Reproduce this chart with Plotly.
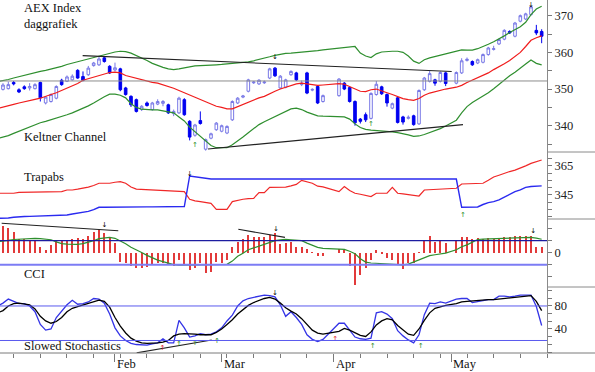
import plotly.graph_objects as go

# ---------------- data (weekday index: 0 = 2 Jan 2013; holidays skipped) ----------------
trade_day = list(range(0, 62)) + list(range(64, 85)) + list(range(86, 103))

open_ = [349.5,
         349.9, 350.1, 351.8, 349.8, 350.6, 350.3, 350.1, 351.8, 346.2,
         346.6, 347.5, 352.4, 352.1, 352.5, 355.1, 353.4, 353.9, 356.4, 356.6,
         358.5, 356.2, 355.2, 355.5, 350.3, 348.0, 347.1, 344.4, 346.2, 344.4,
         345.9, 346.1, 345.7, 343.3, 343.5, 347.1, 341.2, 337.4, 341.4, 333.6,
         336.6, 338.9, 338.5, 338.0, 341.6, 346.2, 347.8, 349.4, 351.7, 351.4,
         351.7, 353.0, 355.7, 350.3, 350.5, 353.9, 354.4, 351.2, 354.4, 349.7,
         350.7, 346.6,
         348.2, 351.6, 350.4, 346.6, 341.8, 343.0,
         342.0, 348.5, 350.6, 348.5, 344.8, 347.6, 342.4, 342.0, 342.7, 340.5,
         349.8, 352.1, 352.5, 352.1, 354.4,
         351.6, 354.4, 357.8, 357.5,
         357.1, 357.3, 359.4, 360.8, 362.3, 363.6, 365.7, 364.4, 368.5, 369.1,
         370.3, 366.0, 365.7]
high = [350.6,
        351.6, 352.0, 352.2, 350.2, 351.0, 351.6, 351.6, 352.0, 348.0,
        348.8, 351.0, 352.8, 353.7, 354.0, 355.4, 354.8, 356.3, 357.4, 358.9,
        359.0, 356.5, 357.2, 355.8, 350.6, 348.3, 347.4, 345.6, 346.6, 346.5,
        347.2, 347.0, 346.0, 344.4, 347.9, 347.5, 341.5, 340.5, 343.9, 336.5,
        338.1, 341.0, 340.3, 340.1, 346.9, 347.8, 348.4, 352.8, 352.2, 352.7,
        352.3, 355.8, 356.0, 353.8, 352.8, 355.1, 354.7, 352.3, 354.7, 350.2,
        351.0, 348.5,
        353.0, 351.9, 350.7, 346.9, 342.1, 343.6,
        349.1, 352.2, 350.9, 348.8, 346.3, 347.9, 342.7, 342.8, 343.0, 349.9,
        353.3, 354.9, 352.8, 354.8, 354.7,
        354.8, 358.4, 358.6, 357.8,
        358.3, 359.7, 361.5, 361.8, 363.8, 366.3, 366.0, 368.3, 370.3, 370.8,
        372.7, 367.5, 366.3]
low = [349.2,
       349.6, 349.9, 351.0, 348.9, 349.8, 349.6, 349.9, 346.6, 345.8,
       346.3, 347.2, 350.9, 351.9, 352.3, 352.8, 352.1, 353.6, 356.1, 356.3,
       357.2, 354.1, 354.8, 349.4, 348.2, 345.1, 343.6, 344.0, 345.2, 344.1,
       345.6, 345.3, 343.2, 342.6, 343.2, 342.7, 336.0, 337.0, 340.3, 333.2,
       336.3, 338.6, 338.2, 337.7, 341.3, 345.9, 347.5, 349.1, 351.4, 351.1,
       351.4, 352.7, 353.3, 350.0, 350.2, 353.6, 352.2, 350.8, 348.6, 349.4,
       345.9, 346.3,
       347.9, 349.7, 346.3, 340.0, 340.6, 341.0,
       341.7, 348.2, 348.4, 345.2, 344.5, 340.6, 340.3, 341.7, 340.0, 340.2,
       349.5, 351.8, 350.9, 351.8, 350.8,
       351.3, 354.1, 357.5, 356.3,
       356.8, 357.0, 359.1, 360.5, 362.0, 363.3, 365.0, 364.1, 368.2, 368.8,
       370.0, 364.7, 362.5]
close = [350.2,
         351.1, 351.2, 351.4, 349.2, 350.1, 350.7, 351.2, 347.6, 347.8,
         348.5, 350.7, 351.2, 353.3, 353.5, 353.0, 352.4, 355.7, 357.1, 358.2,
         357.5, 354.4, 355.8, 349.8, 348.5, 345.7, 343.9, 345.3, 345.5, 346.2,
         346.6, 346.6, 343.5, 343.9, 347.5, 343.0, 336.9, 340.2, 340.6, 336.2,
         337.8, 340.7, 340.0, 339.8, 346.6, 347.5, 348.1, 352.5, 351.9, 352.4,
         351.9, 355.5, 353.6, 353.5, 352.5, 354.8, 352.5, 351.6, 348.9, 349.9,
         346.2, 348.2,
         352.7, 350.0, 346.6, 340.8, 341.2, 341.6,
         348.8, 351.3, 348.7, 346.2, 346.0, 340.9, 341.0, 342.3, 340.3, 349.6,
         353.0, 354.2, 351.6, 354.5, 351.5,
         354.5, 357.7, 358.1, 356.6,
         358.0, 359.4, 361.2, 361.0, 363.5, 366.0, 365.3, 368.0, 370.0, 370.5,
         372.4, 365.3, 364.4]

keltner_mid = [344.7,
               345.0, 345.4, 345.8, 346.2, 346.6, 347.0, 347.2, 347.5, 347.9,
               348.5, 349.0, 349.6, 350.3, 350.9, 351.5, 352.4, 352.8, 353.3, 353.8,
               354.2, 354.5, 354.6, 354.4, 353.7, 353.3, 352.8, 352.4, 352.1, 351.8,
               351.6, 351.2, 350.8, 350.2, 349.6, 349.0, 348.3, 347.8, 347.0, 346.5,
               345.8, 345.3, 345.0, 344.6, 344.6, 345.2, 345.8, 346.6, 347.1, 347.6,
               348.0, 348.8, 349.4, 350.0, 350.5, 350.9, 351.4, 351.6, 351.4, 351.0,
               351.0, 351.1,
               351.5, 351.3, 350.7, 350.0, 349.4, 349.3,
               349.8, 350.0, 349.6, 349.0, 348.5, 347.9, 347.4, 347.1, 346.9, 347.4,
               348.3, 348.9, 349.3, 349.7, 350.0,
               350.5, 351.0, 351.8, 352.4,
               353.0, 353.6, 354.4, 355.3, 356.0, 356.9, 357.8, 358.9, 360.0, 361.6,
               363.3, 364.0, 364.5]
keltner_up = [352.0,
              352.2, 352.6, 353.0, 353.4, 353.8, 354.1, 354.5, 354.8, 355.1,
              355.4, 355.8, 356.2, 356.7, 357.1, 357.5, 357.9, 358.3, 358.7, 359.1,
              359.5, 359.8, 360.1, 360.3, 360.2, 359.8, 359.2, 358.6, 357.8, 357.0,
              356.4, 355.9, 355.5, 355.3, 355.5, 355.8, 356.1, 356.3, 356.4, 356.4,
              356.5, 356.6, 356.7, 356.8, 357.0, 357.1, 357.2, 357.4, 357.7, 358.0,
              358.4, 358.8, 359.2, 359.5, 359.7, 359.8, 359.9, 360.1, 360.2, 360.4,
              360.5, 360.7,
              361.1, 361.3, 361.5, 361.6, 359.8, 359.0,
              358.6, 359.6, 360.1, 360.3, 360.3, 360.3, 360.0, 359.0, 357.6, 357.0,
              358.0, 358.5, 358.9, 359.3, 359.6,
              360.3, 360.7, 360.6, 360.6,
              361.0, 361.5, 362.2, 362.9, 363.6, 364.5, 365.4, 366.2, 367.0, 368.2,
              370.3, 371.8, 372.6]
keltner_low = [336.5,
               336.8, 337.3, 337.9, 338.5, 339.1, 339.8, 340.4, 340.8, 341.2,
               341.6, 342.0, 342.4, 343.0, 343.5, 344.1, 344.6, 345.4, 346.2, 347.1,
               347.9, 348.6, 348.6, 348.3, 347.6, 346.0, 345.0, 344.5, 344.3, 344.3,
               344.3, 344.1, 343.9, 343.5, 342.4, 341.3, 339.6, 338.3, 337.0, 335.8,
               334.6, 334.0, 333.9, 334.0, 334.8, 335.8, 336.9, 338.1, 339.2, 340.3,
               341.1, 341.8, 342.6, 343.3, 343.9, 344.6, 344.8, 344.4, 343.7, 343.2,
               342.7, 342.6,
               342.5, 342.4, 341.8, 340.5, 339.5, 339.0,
               338.8, 338.7, 338.6, 338.5, 338.3, 338.1, 337.9, 337.5, 337.1, 337.2,
               337.6, 338.1, 338.6, 339.2, 339.9,
               341.5, 343.5, 345.2, 346.3,
               347.2, 348.0, 349.0, 350.1, 351.3, 352.5, 353.6, 354.6, 355.6, 356.8,
               357.9, 357.0, 356.6]

trap_red = [346.2,
            346.2, 346.2, 346.2, 346.8, 346.8, 346.8, 346.8, 346.8, 346.8,
            346.8, 346.8, 347.3, 348.4, 348.4, 349.0, 349.6, 350.4, 351.5, 353.0,
            353.0, 353.0, 353.7, 354.1, 353.0, 350.5, 349.0, 348.8, 348.5, 348.4,
            348.3, 348.1, 348.0, 347.8, 347.5, 347.3, 342.1, 341.0, 340.5, 339.8,
            339.3, 335.2, 335.2, 335.2, 340.5, 341.5, 342.1, 342.5, 342.7, 346.6,
            346.6, 350.2, 350.2, 350.2, 350.4, 351.2, 352.2, 355.0, 354.0, 353.0,
            351.0, 350.5,
            347.3, 350.7, 348.0, 346.2, 345.5, 344.7,
            343.9, 346.2, 346.2, 346.2, 350.2, 346.2, 345.7, 345.2, 344.7, 344.3,
            348.4, 348.6, 348.8, 349.0, 349.3,
            349.6, 352.5, 352.6, 352.7,
            352.9, 353.0, 355.0, 357.3, 358.5, 360.0, 361.0, 362.0, 363.2, 364.9,
            366.6, 368.0, 368.9]
trap_blue = [329.0,
             329.1, 329.3, 329.8, 330.2, 330.3, 330.4, 330.5, 330.5, 330.6,
             330.7, 330.7, 330.7, 331.3, 332.0, 332.6, 333.2, 333.8, 335.0, 336.6,
             336.6, 336.7, 336.7, 336.7, 336.8, 336.8, 336.8, 336.9, 336.9, 336.9,
             337.0, 337.0, 337.0, 337.1, 337.1, 337.1, 358.0, 357.5, 356.6, 356.2,
             355.9, 355.9, 355.9, 355.9, 355.9, 355.9, 355.9, 355.9, 355.9, 355.9,
             355.9, 355.9, 355.9, 355.9, 355.9, 355.9, 355.9, 355.9, 355.9, 355.9,
             355.9, 355.9,
             355.9, 355.9, 355.9, 355.9, 355.9, 355.9,
             355.9, 355.9, 355.9, 355.9, 355.9, 355.9, 355.9, 355.9, 355.9, 355.9,
             355.9, 355.9, 355.9, 355.9, 355.9,
             355.9, 336.6, 336.6, 336.6,
             336.8, 338.5, 339.8, 340.5, 341.6, 343.5, 345.5, 347.3, 348.5, 350.2,
             350.8, 351.1, 351.2]

cci_bars = [230,
            222, 203, 175, 111, 111, 95, 100, 45, 20,
            65, 100, 105, 105, 111, 119, 111, 139, 175, 189,
            161, 119, 78, -75, -89, -111, -131, -131, -117, -103,
            -89, -83, -94, -111, -61, -103, -144, -131, -89, -172,
            -158, -75, -83, -61, 50, 92, 111, 147, 133, 128,
            128, 147, 161, 72, 83, 92, 50, 45, 28, 5,
            -28, -28,
            28, 20, -111, -269, -186, -131,
            -61, 22, -8, -47, -61, -103, -139, -89, -89, 5,
            100, 139, 92, 105, 78,
            100, 133, 128, 111,
            119, 111, 119, 111, 119, 128, 128, 139, 139, 139,
            139, 50, 44]
cci_avg = [92,
           95, 102, 110, 113, 116, 118, 119, 117, 114,
           108, 90, 76, 71, 69, 70, 75, 85, 100, 117,
           124, 127, 120, 100, 75, 45, 25, 2, -22, -45,
           -62, -75, -90, -100, -103, -103, -103, -103, -103, -103,
           -103, -103, -103, -97, -70, -30, -5, 25, 40, 55,
           68, 85, 100, 107, 111, 108, 105, 100, 80, 60,
           45, 36,
           31, 28, 12, -8, -50, -78,
           -86, -89, -91, -93, -95, -98, -102, -95, -78, -55,
           -38, -25, -17, -10, -4,
           25, 50, 65, 90,
           110, 113, 115, 116, 117, 118, 119, 121, 124, 127,
           128, 122, 112]

stoch_k = [80,
           85, 92, 88, 84, 84, 80, 70, 48, 38,
           40, 60, 71, 82, 90, 83, 84, 87, 93, 92,
           85, 66, 42, 28, 20, 15, 13, 12, 12, 14,
           16, 23, 16, 16, 55, 42, 26, 28, 32, 30,
           31, 35, 42, 54, 64, 80, 89, 93, 95, 97,
           99, 98, 96, 82, 62, 70, 60, 48, 30, 22,
           18, 22,
           50, 50, 37, 26, 23, 22,
           24, 68, 70, 66, 58, 37, 28, 21, 16, 30,
           65, 85, 84, 87, 85,
           92, 93, 93, 86,
           88, 89, 91, 91, 97, 97, 96, 97, 99, 99,
           99, 79, 46]
stoch_d = [68,
           72, 80, 84, 85, 84, 82, 75, 62, 54,
           50, 53, 60, 70, 76, 79, 82, 84, 87, 90,
           88, 78, 60, 45, 33, 24, 19, 16, 15, 15,
           16, 17, 20, 28, 31, 32, 32, 31, 30, 30,
           30, 34, 40, 48, 56, 66, 74, 81, 86, 90,
           93, 95, 92, 85, 77, 71, 66, 58, 48, 38,
           33, 31,
           36, 41, 38, 33, 29, 27,
           35, 47, 54, 58, 56, 46, 38, 31, 29, 40,
           55, 68, 76, 79, 81,
           84, 87, 88, 89,
           89, 90, 91, 91, 92, 93, 94, 95, 96, 97,
           98, 88, 72]

for _arr in (open_, high, low, close, keltner_mid, keltner_up, keltner_low,
             trap_red, trap_blue, cci_bars, cci_avg, stoch_k, stoch_d):
    assert len(_arr) == len(trade_day), len(_arr)

# reference lines / trend lines (day index, value)
price_ref_level = 352.2
cci_levels = [100, -100]
stoch_levels = [80, 20]
price_trend_up_x, price_trend_up_y = [15.94, 85.13], [359.1, 354.8]
price_trend_lo_x, price_trend_lo_y = [39.44, 87.25], [333.65, 340.3]
cci_trend1_x, cci_trend1_y = [0.75, 22.62], [245, 183]
cci_trend2_x, cci_trend2_y = [45.12, 53.87], [195, 128]
stoch_trend_x, stoch_trend_y = [26.07, 40.13], [-1.5, 21]

# signal arrows: (day, value)
price_dn = ([52, 100], [358.7, 372.9])
price_up = ([37, 70], [334.6, 340.4])
trap_dn = ([36], [359.4])
trap_up = ([87.25], [331.4])
cci_dn = ([20, 52.2, 100.4], [231, 196, 176])
stoch_dn = ([52], [103])
stoch_up_red = ([30.9, 63.3], [7, 22])
stoch_up_green = ([34, 37, 41.1, 70.3, 79.3], [14, 16, 19, 10.4, 10.4])

month_pos = [22, 42, 63, 85]
month_lbl = ['Feb', 'Mar', 'Apr', 'May']

price_ticks = [335, 340, 345, 350, 355, 360, 365, 370]
price_lbls = ['', '340', '', '350', '', '360', '', '370']
trap_ticks = [330, 335, 340, 345, 350, 355, 360, 365, 370]
trap_lbls = ['', '', '', '345', '', '', '', '365', '']
cci_ticks = [-200, -100, 0, 100, 200]
cci_lbls = ['', '', '0', '', '']
stoch_ticks = [0, 40 / 3, 80 / 3, 40, 160 / 3, 200 / 3, 80, 280 / 3, 320 / 3]
stoch_lbls = ['', '', '', '40', '', '', '80', '', '']

# ---------------- figure ----------------
W, H = 595, 372
ML, MR, MT, MB = 0, 48, 0, 19
PW, PH = W - ML - MR, H - MT - MB
SERIF = 'Liberation Serif'


def py(px):  # pixel row inside plot -> paper y
    return 1 - px / PH


fig = go.Figure()

fig.add_trace(go.Candlestick(
    x=trade_day, open=open_, high=high, low=low, close=close,
    xaxis='x', yaxis='y', whiskerwidth=0,
    increasing=dict(line=dict(color='#7878e6', width=1), fillcolor='#ffffff'),
    decreasing=dict(line=dict(color='#0000f0', width=1), fillcolor='#0000f0'),
    showlegend=False, hoverinfo='skip'))


def line(x, y, color, yaxis, width=1.2):
    fig.add_trace(go.Scatter(x=x, y=y, mode='lines', yaxis=yaxis, xaxis='x',
                             line=dict(color=color, width=width),
                             showlegend=False, hoverinfo='skip'))


line(trade_day, keltner_up, '#2f8f2f', 'y')
line(trade_day, keltner_low, '#2f8f2f', 'y')
line(trade_day, keltner_mid, '#f01c1c', 'y')
line(price_trend_up_x, price_trend_up_y, '#222222', 'y', 1.1)
line(price_trend_lo_x, price_trend_lo_y, '#222222', 'y', 1.1)

line(trade_day, trap_red, '#f02828', 'y2')
line(trade_day, trap_blue, '#2a2af0', 'y2', 1.4)

fig.add_trace(go.Bar(x=trade_day, y=cci_bars, xaxis='x', yaxis='y3', width=0.22,
                     marker=dict(color='#e23a3a', line=dict(width=0)),
                     showlegend=False, hoverinfo='skip'))
line(trade_day, cci_avg, '#2f8f2f', 'y3')
line(cci_trend1_x, cci_trend1_y, '#222222', 'y3', 1.1)
line(cci_trend2_x, cci_trend2_y, '#222222', 'y3', 1.1)

line(trade_day, stoch_k, '#3434e6', 'y4', 1.3)
line(trade_day, stoch_d, '#000000', 'y4', 1.3)
line(stoch_trend_x, stoch_trend_y, '#222222', 'y4', 1.1)


def arrows(pts, yaxis, glyph, color):
    fig.add_trace(go.Scatter(x=pts[0], y=pts[1], mode='text', text=[glyph] * len(pts[0]),
                             xaxis='x', yaxis=yaxis, cliponaxis=False,
                             textfont=dict(family='DejaVu Sans', size=7, color=color),
                             showlegend=False, hoverinfo='skip'))


arrows(price_dn, 'y', '↓', '#000000')
arrows(price_up, 'y', '↑', '#1e8a1e')
arrows(trap_dn, 'y2', '↓', '#000000')
arrows(trap_up, 'y2', '↑', '#1e8a1e')
arrows(cci_dn, 'y3', '↓', '#000000')
arrows(stoch_dn, 'y4', '↓', '#000000')
arrows(stoch_up_red, 'y4', '↑', '#e02020')
arrows(stoch_up_green, 'y4', '↑', '#1e8a1e')

shapes = []
# horizontal reference lines drawn through data coordinates
shapes.append(dict(type='line', xref='paper', x0=0, x1=1, yref='y',
                   y0=price_ref_level, y1=price_ref_level,
                   line=dict(color='#8c8c8c', width=1)))
shapes.append(dict(type='line', xref='paper', x0=0, x1=1, yref='y3',
                   y0=cci_levels[0], y1=cci_levels[0], line=dict(color='#1c1ca0', width=1.2)))
shapes.append(dict(type='line', xref='paper', x0=0, x1=1, yref='y3',
                   y0=cci_levels[1], y1=cci_levels[1], line=dict(color='#7c7cf4', width=2)))
for lv in stoch_levels:
    shapes.append(dict(type='line', xref='paper', x0=0, x1=1, yref='y4', y0=lv, y1=lv,
                       line=dict(color='#5a5aee', width=1)))
# panel separators in the right margin and bottom base line
for sep in (152, 219, 287):
    shapes.append(dict(type='line', xref='paper', x0=1, x1=W / PW, yref='paper',
                       y0=py(sep), y1=py(sep), line=dict(color='#8a8a8a', width=1)))
shapes.append(dict(type='line', xref='paper', x0=0, x1=W / PW, yref='paper', y0=0, y1=0,
                   line=dict(color='#7a7a7a', width=1)))

annotations = []
for txt, ypx in (('AEX Index', 8), ('daggrafiek', 24.5), ('Keltner Channel', 136.5),
                 ('Trapabs', 177), ('CCI', 273.5), ('Slowed Stochastics', 346)):
    annotations.append(dict(text=txt, xref='paper', yref='paper', x=22 / PW, y=py(ypx),
                            xanchor='left', yanchor='middle', showarrow=False,
                            font=dict(family=SERIF, size=12.5, color='#111111')))
for pos, lbl in zip(month_pos, month_lbl):
    annotations.append(dict(text=lbl, xref='x', yref='paper', x=pos, y=py(364),
                            xanchor='left', yanchor='middle', showarrow=False,
                            font=dict(family=SERIF, size=12.5, color='#111111')))


def yax(domain, rng, tv, tt):
    return dict(domain=domain, range=rng, side='right', anchor='x',
                tickmode='array', tickvals=tv, ticktext=tt,
                ticks='outside', ticklen=4, tickwidth=1, tickcolor='#7a7a7a',
                showline=True, linecolor='#8a8a8a', linewidth=1,
                showgrid=False, zeroline=False, fixedrange=True,
                tickfont=dict(family=SERIF, size=12.5, color='#222222'))


fig.update_layout(
    width=W, height=H,
    margin=dict(l=ML, r=MR, t=MT, b=MB, pad=0),
    paper_bgcolor='#ffffff', plot_bgcolor='#ffffff',
    showlegend=False, hovermode=False, bargap=0,
    xaxis=dict(domain=[0, 1], range=[0.44, 103.0], anchor='y4',
               showgrid=False, zeroline=False, showline=False,
               tickmode='array', tickvals=month_pos, showticklabels=False,
               ticks='outside', ticklen=8, tickwidth=1, tickcolor='#7a7a7a',
               minor=dict(tick0=3, dtick=5, ticks='outside', ticklen=4,
                          tickwidth=1, tickcolor='#7a7a7a', showgrid=False),
               rangeslider=dict(visible=False), fixedrange=True),
    yaxis=yax([py(152), 1], [332.83, 374.28], price_ticks, price_lbls),
    yaxis2=yax([py(219), py(152)], [328.6, 374.35], trap_ticks, trap_lbls),
    yaxis3=yax([py(287), py(219)], [-285.8, 280.8], cci_ticks, cci_lbls),
    yaxis4=yax([0, py(287)], [-1.74, 113], stoch_ticks, stoch_lbls),
    shapes=shapes, annotations=annotations,
)

fig.write_html('out.html', config={'displayModeBar': False},
               post_script="document.body.style.margin='0px';"
                           "document.body.style.overflow='hidden';")
